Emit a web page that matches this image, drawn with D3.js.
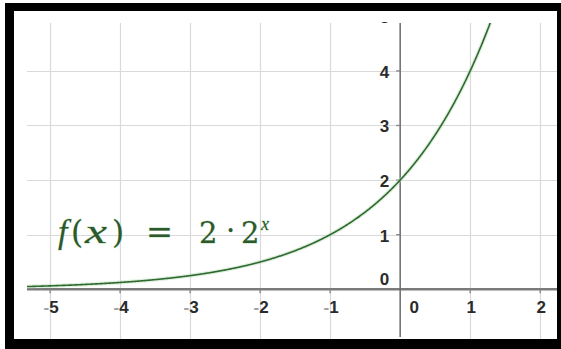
<!DOCTYPE html>
<html>
<head>
<meta charset="utf-8">
<script src="https://cdn.jsdelivr.net/npm/d3@7"></script>
<style>
  body { margin: 0; background: #fff; }
  svg { display: block; }
</style>
</head>
<body>
<svg id="chart" width="561" height="349"></svg>
<script>
// Graph of the exponential function f(x) = 2 · 2^x
const xTickValues = [-5, -4, -3, -2, -1, 0, 1, 2];
const xTickLabels = ["-5", "-4", "-3", "-2", "-1", "0", "1", "2"];
const yTickValues = [0, 1, 2, 3, 4, 5];
const yTickLabels = ["0", "1", "2", "3", "4", "5"];
const xDomain = [-5.33, 2.24];
const yDomain = [-0.929, 4.877];
const coefficient = 2;
const base = 2;
const formulaTokens = ["f", "(", "x", ")", "=", "2", "·", "2", "x"];

const svg = d3.select("#chart");
const W = 561, H = 349;

// frame
svg.append("rect").attr("x", 5).attr("y", 3).attr("width", W - 5).attr("height", H - 3).attr("fill", "#000");
svg.append("rect").attr("x", 14).attr("y", 11).attr("width", 543).attr("height", 328).attr("fill", "#fff");

const plot = { left: 27, right: 557, top: 23, bottom: 339 };
const x = d3.scaleLinear().domain(xDomain).range([plot.left, plot.right]);
const y = d3.scaleLinear().domain(yDomain).range([340, plot.top]);

const defs = svg.append("defs");
defs.append("clipPath").attr("id", "plotClip")
  .append("rect").attr("x", plot.left).attr("y", plot.top)
  .attr("width", plot.right - plot.left).attr("height", plot.bottom - plot.top);
defs.append("clipPath").attr("id", "labelClip")
  .append("rect").attr("x", plot.left).attr("y", 22)
  .attr("width", plot.right - plot.left).attr("height", plot.bottom - 22);

const g = svg.append("g").attr("clip-path", "url(#plotClip)");

// grid
g.append("g").selectAll("line").data(xTickValues.filter(d => d !== 0)).join("line")
  .attr("x1", d => Math.round(x(d)) + 0.5).attr("x2", d => Math.round(x(d)) + 0.5)
  .attr("y1", plot.top).attr("y2", plot.bottom)
  .attr("stroke", "#d9d9d9").attr("stroke-width", 1.2);
g.append("g").selectAll("line").data(yTickValues.filter(d => d !== 0)).join("line")
  .attr("x1", plot.left).attr("x2", plot.right)
  .attr("y1", d => Math.round(y(d)) + 0.5).attr("y2", d => Math.round(y(d)) + 0.5)
  .attr("stroke", "#d9d9d9").attr("stroke-width", 1.2);

// axes
const x0 = x(0), y0 = y(0);
g.append("line").attr("x1", plot.left).attr("x2", plot.right).attr("y1", y0).attr("y2", y0)
  .attr("stroke", "#7a7a7a").attr("stroke-width", 2.4);
g.append("line").attr("x1", x0).attr("x2", x0).attr("y1", plot.top).attr("y2", plot.bottom - 2)
  .attr("stroke", "#6a6a6a").attr("stroke-width", 1.5);

// tick marks
g.append("g").selectAll("line").data(xTickValues.filter(d => d !== 0)).join("line")
  .attr("x1", d => x(d)).attr("x2", d => x(d)).attr("y1", y0).attr("y2", y0 + 4)
  .attr("stroke", "#888").attr("stroke-width", 1.4);
g.append("g").selectAll("line").data(yTickValues.filter(d => d !== 0)).join("line")
  .attr("x1", x0 - 4).attr("x2", x0).attr("y1", d => y(d)).attr("y2", d => y(d))
  .attr("stroke", "#888").attr("stroke-width", 1.4);

// tick labels
const labelFont = "'Liberation Sans', Arial, sans-serif";
const xl = svg.append("g").attr("font-family", labelFont).attr("font-size", 17)
  .attr("font-weight", "bold").attr("fill", "#2b2b2b").attr("text-anchor", "middle");
xTickValues.forEach((v, i) => {
  const lab = xTickLabels[i];
  const t = xl.append("text").attr("x", v === 0 ? x(v) + 14 : x(v) + 1).attr("y", y0 + 24);
  if (lab.startsWith("-")) {
    t.append("tspan").attr("fill", "#a3a3a3").text("-");
    t.append("tspan").text(lab.slice(1));
  } else {
    t.text(lab);
  }
});
const yl = svg.append("g").attr("clip-path", "url(#labelClip)")
  .attr("font-family", labelFont).attr("font-size", 17)
  .attr("font-weight", "bold").attr("fill", "#2b2b2b").attr("text-anchor", "end");
yTickValues.forEach((v, i) => {
  yl.append("text").attr("x", x0 - 11)
    .attr("y", v === 0 ? y0 - 4 : y(v) + 7)
    .text(yTickLabels[i]);
});

// function curve
const f = t => coefficient * Math.pow(base, t);
const xs = d3.range(xDomain[0], 1.4, 0.01);
const line = d3.line().x(d => x(d)).y(d => y(f(d)));
g.append("path").datum(xs).attr("d", line).attr("fill", "none")
  .attr("stroke", "#b8dcb8").attr("stroke-width", 4).attr("stroke-opacity", 0.45);
g.append("path").datum(xs).attr("d", line).attr("fill", "none")
  .attr("stroke", "#2f6a2f").attr("stroke-width", 1.6);

// formula label: italic variables, upright digits and operators
const layout = [
  { x: 58, y: 243, size: 34, italic: true },
  { x: 71, y: 243, size: 31, italic: false },
  { x: 85, y: 243, size: 34, italic: true, len: 22 },
  { x: 112, y: 243, size: 31, italic: false },
  { x: 146, y: 243, size: 31, italic: false, len: 27 },
  { x: 199, y: 243, size: 29, italic: false },
  { x: 226, y: 240, size: 29, italic: false },
  { x: 241, y: 243, size: 29, italic: false },
  { x: 261, y: 230, size: 18, italic: true }
];
const fg = svg.append("g")
  .attr("fill", "#2c582c").attr("stroke", "#bfe0bf").attr("stroke-width", 0.8)
  .attr("paint-order", "stroke");
formulaTokens.forEach((tok, i) => {
  const L = layout[i];
  const t = fg.append("text").attr("x", L.x).attr("y", L.y).attr("font-size", L.size)
    .attr("font-family", L.italic ? "'Liberation Serif', serif" : "'DejaVu Serif', serif")
    .attr("font-style", L.italic ? "italic" : "normal").text(tok);
  if (L.len) t.attr("textLength", L.len).attr("lengthAdjust", "spacingAndGlyphs");
});
</script>
</body>
</html>
